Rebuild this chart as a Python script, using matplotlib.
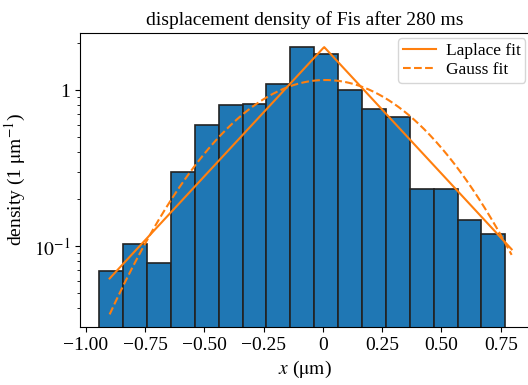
import numpy as np
import matplotlib.pyplot as plt
from matplotlib.ticker import FixedLocator, FuncFormatter

plt.rcParams["font.family"] = "serif"
plt.rcParams["font.serif"] = ["Liberation Serif"]
plt.rcParams["mathtext.fontset"] = "stix"
plt.rcParams["font.size"] = 14

# histogram bins (um) and densities
bin_start = -0.944
bin_width = 0.1008
densities = [0.069, 0.1035, 0.0775, 0.30, 0.594, 0.805, 0.82, 1.10, 1.88,
             1.70, 1.00, 0.76, 0.675, 0.232, 0.232, 0.147, 0.12]

# fitted model parameters
laplace_mu, laplace_b = 0.005, 0.265
gauss_amp, gauss_mu, gauss_sigma = 1.16, 0.01, 0.346
fit_range = (-0.9, 0.796)

edges = bin_start + bin_width * np.arange(len(densities) + 1)

fig = plt.figure(figsize=(5.28, 3.85), dpi=100)
ax = fig.add_axes([0.1515, 0.1506, 0.853, 0.7636])

ax.bar(edges[:-1], densities, width=bin_width, align="edge",
       color="#1f77b4", edgecolor="#222222", linewidth=1.2)

xs = np.linspace(fit_range[0], fit_range[1], 400)
laplace = np.exp(-np.abs(xs - laplace_mu) / laplace_b) / (2 * laplace_b)
gauss = gauss_amp * np.exp(-(xs - gauss_mu) ** 2 / (2 * gauss_sigma ** 2))
ax.plot(xs, laplace, color="#ff7f0e", linewidth=1.5, label="Laplace fit")
ax.plot(xs, gauss, color="#ff7f0e", linewidth=1.5, linestyle="--", label="Gauss fit")

ax.set_yscale("log")
ax.set_ylim(0.0303, 2.32)
ax.set_xlim(-1.025, 0.875)

ax.xaxis.set_major_locator(FixedLocator([-1.0, -0.75, -0.5, -0.25, 0, 0.25, 0.5, 0.75]))
ax.xaxis.set_major_formatter(FuncFormatter(
    lambda v, p: "0" if abs(v) < 1e-9 else ("%.2f" % v).replace("-", "\u2212")))
ax.yaxis.set_major_formatter(FuncFormatter(
    lambda v, p: "1" if abs(v - 1) < 1e-9 else (r"$10^{-1}$" if abs(v - 0.1) < 1e-9 else "")))

ax.set_xlabel(r"$x$ ($\mathrm{\mu m}$)")
ax.set_ylabel(r"density (1 $\mathrm{\mu m}^{-1}$)")
ax.set_title("displacement density of Fis after 280 ms", fontsize=14)
ax.legend(loc="upper right", fontsize=12.5, handlelength=1.9, borderpad=0.25,
          labelspacing=0.2, handletextpad=0.6, borderaxespad=0.3)

fig.savefig("out.png", dpi=100)
